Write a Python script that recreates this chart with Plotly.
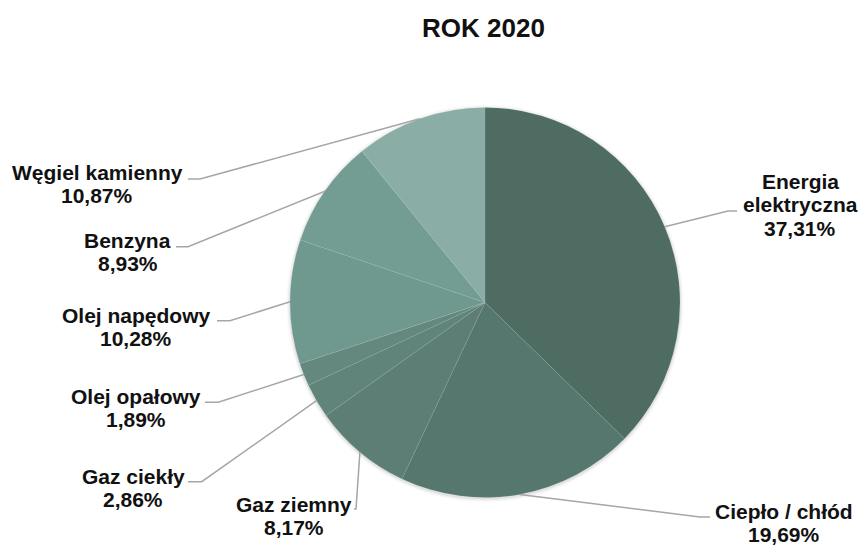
import math
import plotly.graph_objects as go

# ---- data ----
categories = ["Energia elektryczna", "Ciepło / chłód", "Gaz ziemny", "Gaz ciekły",
              "Olej opałowy", "Olej napędowy", "Benzyna", "Węgiel kamienny"]
label_lines = [["Energia", "elektryczna"], ["Ciepło / chłód"], ["Gaz ziemny"], ["Gaz ciekły"],
               ["Olej opałowy"], ["Olej napędowy"], ["Benzyna"], ["Węgiel kamienny"]]
values = [37.31, 19.69, 8.17, 2.86, 1.89, 10.28, 8.93, 10.87]
colors = ["#4F6C63", "#56776E", "#5D7E75", "#60837A", "#64887E", "#6F998F", "#739D92", "#8AADA6"]
title_text = "ROK 2020"

# ---- layout constants (pixels) ----
W, H = 862, 546
CX, CY, R = 485, 302.5, 195
FS = 21
LINE_GAP = 23.3
FONT = "Liberation Sans, Arial, sans-serif"

# label anchor: (center x, first line center y)
label_pos = [(800, 181.5), (784, 511), (294, 504), (133, 476),
             (136, 396.5), (136, 315), (127.5, 240.5), (97, 172)]
# leader line: elbow point and end point next to label
leader = [((728, 211), (737, 211)), ((700, 517), (710, 517)), ((356, 509), (354, 509)),
          ((201.7, 481.7), (188, 481.7)), ((218.3, 402.3), (205, 402.3)),
          ((230, 320.7), (217, 320.7)), ((188, 246.7), (176, 246.7)),
          ((200, 179), (188, 179))]


def px(x):
    return x / W


def py(y):
    return 1 - y / H


fig = go.Figure()
fig.add_trace(go.Pie(
    labels=categories, values=values, sort=False, direction="clockwise", rotation=0,
    marker=dict(colors=colors, line=dict(color="rgba(255,255,255,0.12)", width=0.6)),
    textinfo="none", hoverinfo="label+percent", showlegend=False,
    domain=dict(x=[px(CX - R), px(CX + R)], y=[py(CY + R), py(CY - R)]),
))

shapes = []
# soft shadow around pie
for i, a in enumerate([0.05, 0.035, 0.02, 0.01]):
    rr = R + 1 + i
    shapes.append(dict(type="circle", xref="paper", yref="paper", layer="below",
                       x0=px(CX - rr), x1=px(CX + rr), y0=py(CY + rr + 1), y1=py(CY - rr + 1),
                       fillcolor=f"rgba(0,0,0,{a})", line=dict(width=0)))

total = sum(values)
cum = 0.0
annotations = []
for i, v in enumerate(values):
    mid = (cum + v / 2) / total * 2 * math.pi
    cum += v
    ex = CX + R * math.sin(mid)
    ey = CY - R * math.cos(mid)
    (bx, by), (tx, ty) = leader[i]
    path = f"M {px(ex)},{py(ey)} L {px(bx)},{py(by)} L {px(tx)},{py(ty)}"
    shapes.append(dict(type="path", xref="paper", yref="paper", path=path,
                       line=dict(color="#A6A6A6", width=1.5)))
    lx, ly = label_pos[i]
    lines = label_lines[i] + [f"{v:.2f}%".replace(".", ",")]
    for j, t in enumerate(lines):
        annotations.append(dict(x=px(lx), y=py(ly + j * LINE_GAP), xref="paper", yref="paper",
                                text=f"<b>{t}</b>", showarrow=False, xanchor="center",
                                yanchor="middle", font=dict(family=FONT, size=FS, color="#111111")))

annotations.append(dict(x=px(483), y=py(28), xref="paper", yref="paper", text=f"<b>{title_text}</b>",
                        showarrow=False, xanchor="center", yanchor="middle",
                        font=dict(family=FONT, size=26, color="#111111")))

fig.update_layout(width=W, height=H, autosize=False, margin=dict(l=0, r=0, t=0, b=0),
                  paper_bgcolor="white", plot_bgcolor="white",
                  shapes=shapes, annotations=annotations)

fig.write_html("out.html", config={"displayModeBar": False},
               post_script="document.body.style.margin='0';document.body.style.overflow='hidden';")
